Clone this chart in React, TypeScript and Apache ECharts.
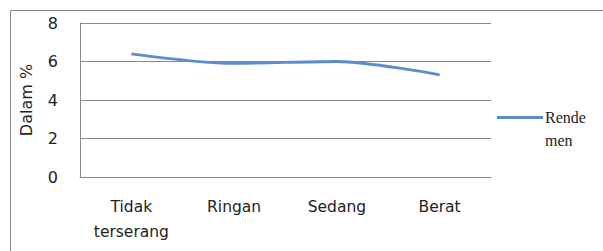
import React, { useEffect, useRef } from "react";
import * as echarts from "echarts";

const categories = ["Tidak\nterserang", "Ringan", "Sedang", "Berat"];
const rendemen = [6.4, 5.9, 6.0, 5.3];
const seriesName = "Rendemen";

export default function App() {
  const ref = useRef<HTMLDivElement>(null);
  useEffect(() => {
    if (!ref.current) return;
    const chart = echarts.init(ref.current, null, { renderer: "svg" });
    chart.setOption({
      animation: false,
      backgroundColor: "#ffffff",
      graphic: [
        {
          type: "rect",
          shape: { x: 10.5, y: 10.5, width: 600, height: 260 },
          style: { fill: "none", stroke: "#8a8a8a", lineWidth: 1 },
          silent: true,
        },
      ],
      grid: { left: 80, top: 23, width: 411, height: 154 },
      legend: {
        show: true,
        orient: "vertical",
        left: 497,
        top: 83,
        padding: 0,
        itemWidth: 46,
        itemHeight: 14,
        itemGap: 4,
        formatter: () => "\nRende\nmen",
        textStyle: {
          fontFamily: "Liberation Serif",
          fontSize: 16,
          color: "#222",
          lineHeight: 23,
          padding: [0, 0, 0, -3],
        },
        data: [{ name: seriesName, icon: "path://M0,0 L46,0 L46,3 L0,3 Z" }],
      },
      xAxis: {
        type: "category",
        data: categories,
        boundaryGap: true,
        axisLine: { show: true, lineStyle: { color: "#8a8a8a", width: 1 } },
        axisTick: { show: false },
        axisLabel: {
          fontFamily: "DejaVu Sans",
          fontSize: 15.5,
          color: "#222",
          margin: 17,
          lineHeight: 25,
          interval: 0,
        },
      },
      yAxis: {
        type: "value",
        min: 0,
        max: 8,
        interval: 2,
        name: "Dalam %",
        nameLocation: "middle",
        nameGap: 46,
        nameTextStyle: { fontFamily: "DejaVu Sans", fontSize: 16, color: "#222" },
        axisLine: { show: true, lineStyle: { color: "#8a8a8a", width: 1 } },
        axisTick: { show: false },
        splitLine: { show: true, lineStyle: { color: "#8a8a8a", width: 1 } },
        axisLabel: {
          fontFamily: "DejaVu Sans",
          fontSize: 16,
          color: "#222",
          margin: 22,
        },
      },
      series: [
        {
          name: seriesName,
          type: "line",
          data: rendemen,
          smooth: 0.3,
          symbol: "none",
          lineStyle: { color: "#5a8ccf", width: 2.8 },
          itemStyle: { color: "#5a8ccf" },
        },
      ],
    });
    return () => chart.dispose();
  }, []);
  return (
    <div
      ref={ref}
      style={{ position: "absolute", left: 0, top: 0, width: 603, height: 251 }}
    />
  );
}
